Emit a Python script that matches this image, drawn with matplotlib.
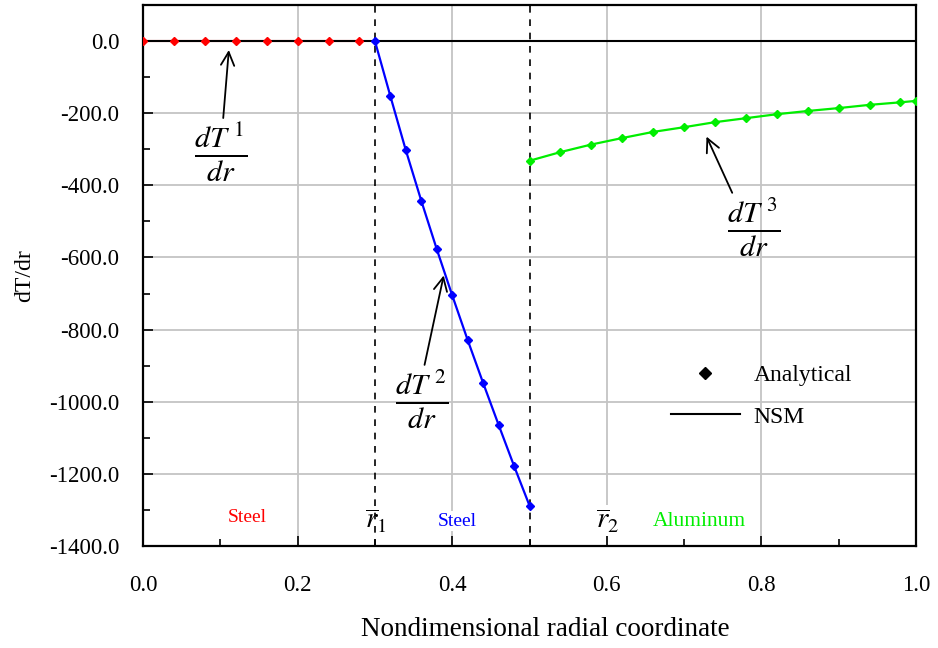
import matplotlib
matplotlib.use("Agg")
import matplotlib.pyplot as plt
from matplotlib.lines import Line2D
from matplotlib.ticker import MultipleLocator, FormatStrFormatter

plt.rcParams["font.family"] = ["Liberation Serif", "DejaVu Serif"]
plt.rcParams["mathtext.fontset"] = "stix"

# region 1 (steel, inner)
r1 = [0.0, 0.04, 0.08, 0.12, 0.16, 0.20, 0.24, 0.28]
g1 = [0, 0, 0, 0, 0, 0, 0, 0]
# region 2 (steel)
r2 = [0.30, 0.32, 0.34, 0.36, 0.38, 0.40, 0.42, 0.44, 0.46, 0.48, 0.50]
g2 = [0, -153, -303, -443, -577, -705, -829, -948, -1064, -1178, -1288]
# region 3 (aluminum)
r3 = [0.50, 0.54, 0.58, 0.62, 0.66, 0.70, 0.74, 0.78, 0.82, 0.86, 0.90, 0.94, 0.98, 1.00]
g3 = [-332, -308, -287, -269, -252, -239, -225, -214, -203, -194, -186, -177, -170, -166]

r_bar = [0.3, 0.5]

fig = plt.figure(figsize=(9.38, 6.48), dpi=100)
ax = fig.add_axes([0.1525, 0.1574, 0.824, 0.835])

ax.set_xlim(0, 1.0)
ax.set_ylim(-1400, 100)
ax.xaxis.set_major_locator(MultipleLocator(0.2))
ax.xaxis.set_minor_locator(MultipleLocator(0.1))
ax.yaxis.set_major_locator(MultipleLocator(200))
ax.yaxis.set_minor_locator(MultipleLocator(100))
ax.xaxis.set_major_formatter(FormatStrFormatter("%.1f"))
ax.yaxis.set_major_formatter(FormatStrFormatter("%.1f"))
ax.tick_params(which="both", direction="in", labelsize=16.5, width=1.2)
ax.tick_params(which="major", length=7)
ax.tick_params(which="minor", length=5)
ax.tick_params(axis="x", pad=21)
ax.tick_params(axis="y", pad=17)
ax.grid(True, which="major", color="#c4c4c4", lw=1.3)
ax.set_axisbelow(True)
for s in ax.spines.values():
    s.set_linewidth(1.6)

for rv in r_bar:
    ax.axvline(rv, color="black", ls=(0, (4, 4)), lw=1.2, zorder=2)

ax.plot(r1, g1, color="red", lw=1.5, zorder=3)
ax.axhline(0, color="black", lw=1.5, zorder=3.5)
ax.plot(r1, g1, color="red", lw=0, marker="D", ms=4.5, zorder=4)
ax.plot(r2, g2, color="blue", lw=1.6, marker="D", ms=4.5, zorder=4)
ax.plot(r3, g3, color="#00ee00", lw=1.6, marker="D", ms=4.5, zorder=4)

ax.set_xlabel("Nondimensional radial coordinate", fontsize=19.5, labelpad=15)
ax.xaxis.label.set_x(0.52)
ax.set_ylabel("dT/dr", fontsize=17, labelpad=10)

# fraction labels with arrows
frac = [r"$\frac{dT^{\;1}}{dr}$", r"$\frac{dT^{\;2}}{dr}$", r"$\frac{dT^{\;3}}{dr}$"]
arrow = dict(arrowstyle="->", color="black", lw=1.3, mutation_scale=24,
             shrinkA=0, shrinkB=0)
ax.annotate(frac[0], xy=(0.111, -25), xytext=(0.10, -310), fontsize=31,
            ha="center", va="center", arrowprops=dict(arrow, relpos=(0.55, 1.0)))
ax.annotate(frac[1], xy=(0.389, -650), xytext=(0.36, -994), fontsize=31,
            ha="center", va="center", arrowprops=dict(arrow, relpos=(0.55, 1.0)))
ax.annotate(frac[2], xy=(0.729, -265), xytext=(0.79, -517), fontsize=31,
            ha="center", va="center", arrowprops=dict(arrow, relpos=(0.12, 1.0)))

# region labels
ax.text(0.1345, -1322, "Steel", color="red", fontsize=14, ha="center", va="center")
ax.text(0.301, -1330, r"$\overline{r}_1$", fontsize=21, ha="center", va="center")
ax.text(0.406, -1331, "Steel", color="blue", fontsize=14, ha="center", va="center",
        bbox=dict(fc="white", ec="none", pad=1))
ax.text(0.601, -1330, r"$\overline{r}_2$", fontsize=21, ha="center", va="center",
        bbox=dict(fc="white", ec="none", pad=1))
ax.text(0.72, -1333, "Aluminum", color="#00ee00", fontsize=15.5, ha="center", va="center",
        bbox=dict(fc="white", ec="none", pad=1))

handles = [Line2D([], [], color="black", lw=0, marker="D", ms=6.5),
           Line2D([], [], color="black", lw=1.5)]
ax.legend(handles, ["Analytical", "NSM"], loc="center left",
          bbox_to_anchor=(0.668, 0.277), frameon=False, fontsize=17,
          borderpad=0, handlelength=2.9, labelspacing=0.85, handletextpad=0.6)

fig.savefig("out.png", dpi=100)
